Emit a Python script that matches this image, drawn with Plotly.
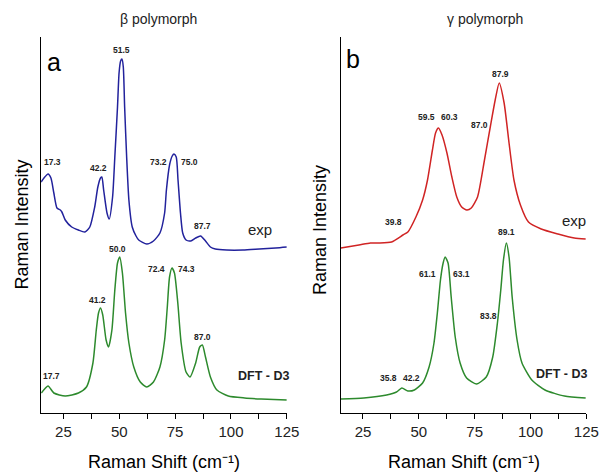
import plotly.graph_objects as go

# ---------------- data (intensity in arbitrary units) -------------
beta_exp_x = [15.0, 16.3, 18.1, 19.4, 20.7, 22.1, 23.6, 24.3, 25.8, 28.7, 31.7, 34.6, 36.8,
              39.0, 40.4, 41.6, 42.2, 43.0, 44.5, 45.5, 47.0, 48.0, 49.2, 49.9, 50.6, 51.2,
              51.8, 52.4, 53.3, 54.3, 55.8, 57.5, 58.7, 62.3, 65.3, 68.2, 70.3, 71.1, 72.5,
              73.7, 74.5, 75.5, 76.3, 77.4, 78.4, 79.9, 82.0, 84.2, 86.4, 88.6, 90.8, 93.0,
              98.1, 105.4, 112.7, 120.0, 125.0]
beta_exp_y = [231, 235, 239, 235, 220, 205, 203, 201, 193, 186, 183, 181, 186,
              206, 226, 235, 236, 223, 200, 194, 216, 256, 306, 340, 352, 354,
              346, 306, 256, 213, 186, 177, 173, 169, 172, 180, 200, 223, 248,
              257, 259, 256, 233, 200, 180, 173, 172, 175, 177, 172, 166, 164,
              163, 163, 164, 165, 166]

beta_dft_x = [15.1, 18.1, 20.7, 25.8, 31.7, 35.3, 38.2, 39.7, 40.7, 41.6, 42.6, 44.1, 45.2,
              46.7, 48.0, 49.2, 50.2, 51.4, 52.8, 54.3, 56.5, 59.4, 62.3, 65.3, 68.2, 70.3,
              71.5, 72.5, 73.6, 74.7, 76.2, 77.7, 79.9, 81.7, 84.2, 86.0, 87.2, 88.6, 90.8,
              93.7, 98.8, 106.1, 113.5, 125.0]
beta_dft_y = [20, 27, 20, 17, 20, 26, 50, 83, 100, 105, 98, 73, 66,
              83, 123, 150, 156, 140, 100, 70, 46, 31, 26, 31, 46, 73,
              106, 136, 145, 140, 110, 70, 41, 36, 50, 66, 68, 56, 36,
              23, 17, 15, 14, 13]

gamma_exp_x = [15.1, 23.2, 28.3, 32.0, 37.8, 42.9, 45.1, 48.7, 51.7, 53.9, 56.1, 57.5, 58.8,
               60.4, 62.6, 64.8, 67.0, 69.2, 71.5, 73.5, 76.3, 79.4, 82.0, 84.2, 86.0, 88.2,
               90.4, 92.6, 95.5, 99.1, 104.8, 112.3, 119.6, 124.7]
gamma_exp_y = [165, 168, 170, 170, 171, 178, 181, 196, 213, 233, 263, 280, 285,
               278, 260, 236, 216, 206, 203, 205, 216, 253, 286, 313, 330, 310,
               270, 233, 208, 191, 184, 179, 175, 174]

gamma_dft_x = [15.1, 25.4, 35.6, 40.0, 42.4, 45.1, 48.0, 51.7, 54.6, 56.8, 58.3, 59.7, 60.9,
               61.8, 63.1, 64.5, 66.3, 68.5, 71.4, 75.8, 80.2, 83.1, 85.2, 86.7, 87.9, 89.2,
               90.4, 91.8, 94.0, 96.2, 100.6, 106.5, 115.2, 124.7]
gamma_dft_y = [14, 15, 18, 21, 25, 22, 23, 30, 46, 70, 100, 133, 150,
               156, 150, 116, 76, 50, 35, 29, 36, 56, 90, 123, 153, 170,
               156, 116, 73, 50, 33, 23, 17, 15]

# peak labels: (text, x, y) in data coordinates
beta_labels = [("51.5", 51.2, 363), ("17.3", 20.0, 251), ("42.2", 40.9, 245),
               ("73.2", 67.5, 251), ("75.0", 81.3, 251), ("87.7", 87.4, 187),
               ("50.0", 49.2, 164), ("41.2", 40.4, 113), ("72.4", 66.7, 144),
               ("74.3", 79.9, 144), ("87.0", 87.2, 76), ("17.7", 19.7, 37)]
gamma_labels = [("87.9", 86.7, 339), ("59.5", 53.6, 296), ("60.3", 63.8, 296),
                ("87.0", 77.2, 288), ("39.8", 38.5, 191), ("89.1", 89.3, 181),
                ("61.1", 53.9, 139), ("63.1", 69.2, 139), ("83.8", 81.3, 97),
                ("35.8", 36.6, 35), ("42.2", 46.9, 35)]

tick_vals = [25, 50, 75, 100, 125]
tick_text = ["25", "50", "75", "100", "125"]

BLUE = "#22229c"
RED = "#d02424"
GREEN = "#2d8a2d"
FONT = "Arial, Liberation Sans, sans-serif"

fig = go.Figure()
fig.add_trace(go.Scatter(x=beta_exp_x, y=beta_exp_y, mode="lines",
                         line=dict(color=BLUE, width=1.5, shape="spline", smoothing=0.6),
                         xaxis="x", yaxis="y", showlegend=False))
fig.add_trace(go.Scatter(x=beta_dft_x, y=beta_dft_y, mode="lines",
                         line=dict(color=GREEN, width=1.5, shape="spline", smoothing=0.6),
                         xaxis="x", yaxis="y", showlegend=False))
fig.add_trace(go.Scatter(x=gamma_exp_x, y=gamma_exp_y, mode="lines",
                         line=dict(color=RED, width=1.5, shape="spline", smoothing=0.6),
                         xaxis="x2", yaxis="y2", showlegend=False))
fig.add_trace(go.Scatter(x=gamma_dft_x, y=gamma_dft_y, mode="lines",
                         line=dict(color=GREEN, width=1.5, shape="spline", smoothing=0.6),
                         xaxis="x2", yaxis="y2", showlegend=False))

xcommon = dict(range=[15, 125], showline=True, linecolor="black", linewidth=1.2,
               ticks="outside", ticklen=5, tickwidth=1, tickcolor="black",
               tickvals=tick_vals, ticktext=tick_text,
               minor=dict(dtick=12.5, tick0=0, ticks="outside", ticklen=5, tickcolor="black"),
               showgrid=False, zeroline=False, mirror=False,
               tickfont=dict(family=FONT, size=15, color="#222"))
ycommon = dict(range=[0, 376], showline=True, linecolor="black", linewidth=1.2,
               showticklabels=False, ticks="", showgrid=False, zeroline=False)

fig.update_layout(
    width=614, height=474,
    margin=dict(l=0, r=0, t=0, b=0),
    paper_bgcolor="white", plot_bgcolor="white",
    xaxis=dict(domain=[42 / 614, 293 / 614], anchor="y", **xcommon),
    yaxis=dict(domain=[61 / 474, 437 / 474], anchor="x", **ycommon),
    xaxis2=dict(domain=[348 / 614, 599 / 614], anchor="y2", **xcommon),
    yaxis2=dict(domain=[61 / 474, 437 / 474], anchor="x2", **ycommon),
)


def A(text, x, y, xref, yref, size, color="#222", angle=0, yanchor="middle"):
    return dict(text=text, x=x, y=y, xref=xref, yref=yref, showarrow=False,
                xanchor="center", yanchor=yanchor, textangle=angle,
                font=dict(family=FONT, size=size, color=color))


ann = []
for t, x, y in beta_labels:
    ann.append(A("<b>%s</b>" % t, x, y, "x", "y", 8.5))
for t, x, y in gamma_labels:
    ann.append(A("<b>%s</b>" % t, x, y, "x2", "y2", 8.5))
# series tags and panel letters
ann += [
    A("exp", 113.0, 184, "x", "y", 15),
    A("<b>DFT - D3</b>", 114.6, 37, "x", "y", 12.5),
    A("exp", 119.3, 193, "x2", "y2", 15),
    A("<b>DFT - D3</b>", 114.0, 39, "x2", "y2", 12.5),
    A("a", 20.7, 351.5, "x", "y", 25, "black"),
    A("b", 20.7, 354, "x2", "y2", 25, "black"),
]
# titles
ann += [
    A("β polymorph", 162 / 614, 1 - 19 / 474, "paper", "paper", 14),
    A("γ polymorph", 496 / 614, 1 - 19 / 474, "paper", "paper", 14),
    A("Raman Intensity", 22 / 614, 1 - 225 / 474, "paper", "paper", 18, "black", -90),
    A("Raman Intensity", 327 / 614, 1 - 230 / 474, "paper", "paper", 18, "black", -90),
    A("Raman Shift (cm⁻¹)", 168 / 614, 1 - 462 / 474, "paper", "paper", 18, "black"),
    A("Raman Shift (cm⁻¹)", 474 / 614, 1 - 462 / 474, "paper", "paper", 18, "black"),
]
fig.update_layout(annotations=ann)

fig.write_html("out.html", config={"displayModeBar": False},
               post_script="document.body.style.margin='0';document.body.style.overflow='hidden';")
